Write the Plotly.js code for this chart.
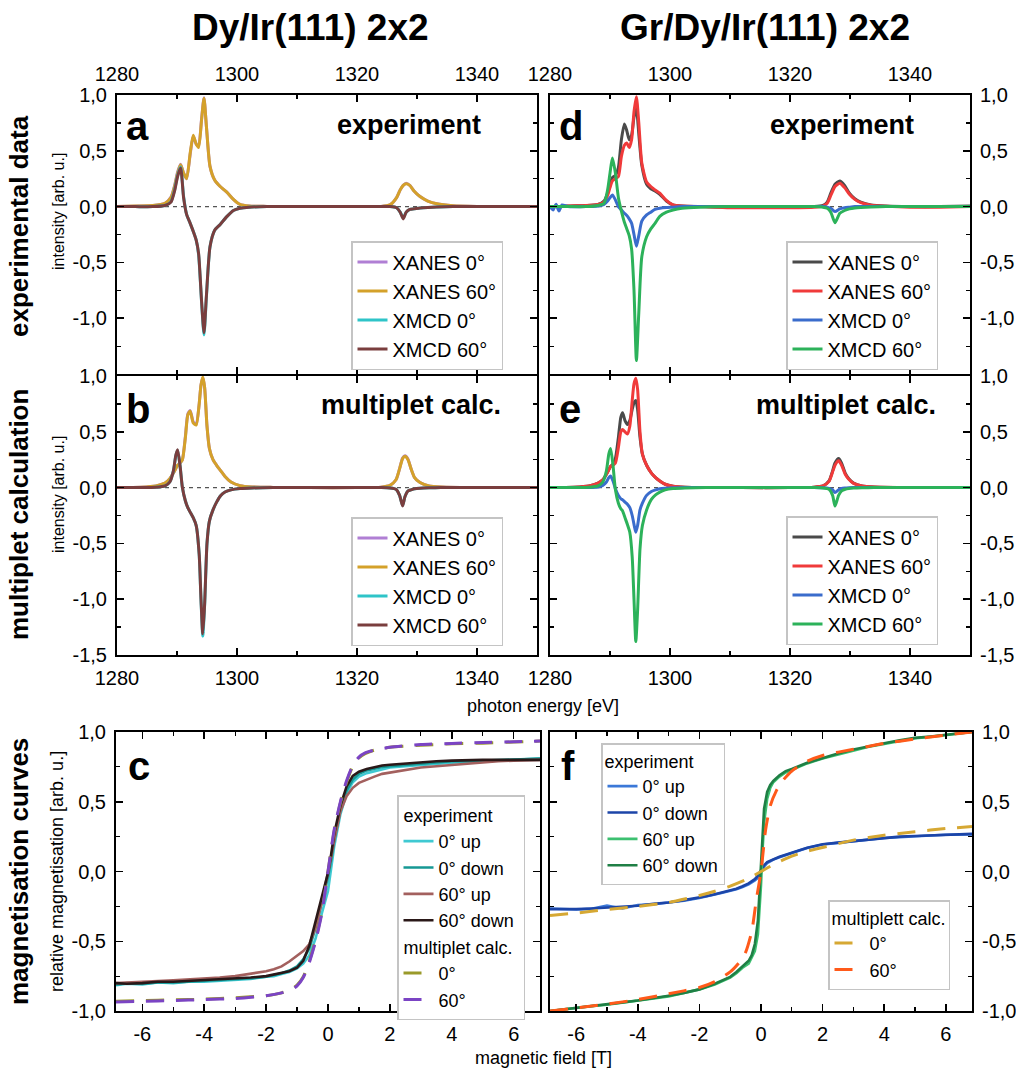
<!DOCTYPE html>
<html><head><meta charset="utf-8">
<script src="https://cdn.plot.ly/plotly-3.0.1.min.js"></script>
<style>html,body{margin:0;padding:0;background:#fff}#chart{width:1016px;height:1074px}</style>
</head><body><div id="chart"></div>
<script>
// ---------------- tick labels ----------------
const energyTicks = [1280, 1300, 1320, 1340];
const energyTickText = ['1280', '1300', '1320', '1340'];
const specTicksA = [1, 0.5, 0, -0.5, -1];
const specTickTextA = ['1,0', '0,5', '0,0', '-0,5', '-1,0'];
const specTicksB = [1, 0.5, 0, -0.5, -1, -1.5];
const specTickTextB = ['1,0', '0,5', '0,0', '-0,5', '-1,0', '-1,5'];
const fieldTicks = [-6, -4, -2, 0, 2, 4, 6];
const fieldTickText = ['-6', '-4', '-2', '0', '2', '4', '6'];
const magTicks = [1, 0.5, 0, -0.5, -1];
const magTickText = ['1,0', '0,5', '0,0', '-0,5', '-1,0'];

// ---------------- panel a: Dy/Ir(111) experiment ----------------
const E_a = [1280, 1283, 1286, 1288, 1289, 1289.6, 1290.1, 1290.6, 1291.1, 1291.6, 1292.2, 1292.7, 1293.2, 1293.6, 1294.1, 1294.5, 1294.9, 1295.5, 1296.3, 1297.2, 1298.3, 1299.4, 1300.5, 1302, 1305, 1310, 1315, 1320, 1324, 1325.5, 1326.6, 1327.2, 1327.7, 1328.2, 1328.8, 1329.5, 1330.5, 1331.8, 1333.3, 1336, 1340, 1345, 1350];
const a_xanes0 = [0, 0.004, 0.01, 0.03, 0.085, 0.19, 0.31, 0.38, 0.3, 0.25, 0.47, 0.63, 0.56, 0.54, 0.79, 0.975, 0.72, 0.36, 0.235, 0.18, 0.13, 0.065, 0.02, 0.005, 0.002, 0, 0, 0, 0.002, 0.015, 0.08, 0.15, 0.19, 0.21, 0.19, 0.14, 0.09, 0.05, 0.025, 0.008, 0.002, 0, 0];
const a_xanes60 = [0, 0.005, 0.01, 0.03, 0.08, 0.18, 0.3, 0.375, 0.3, 0.25, 0.48, 0.64, 0.56, 0.53, 0.78, 0.97, 0.72, 0.36, 0.235, 0.18, 0.13, 0.065, 0.02, 0.005, 0.002, 0, 0, 0, 0.002, 0.015, 0.08, 0.15, 0.19, 0.205, 0.19, 0.14, 0.09, 0.05, 0.025, 0.008, 0.002, 0, 0];
const a_xmcd0 = [0, 0, 0, 0.01, 0.045, 0.15, 0.28, 0.355, 0.09, -0.07, -0.15, -0.22, -0.3, -0.43, -0.86, -1.15, -0.81, -0.36, -0.21, -0.16, -0.09, -0.035, -0.015, -0.005, 0, 0, 0, 0, 0, 0, -0.01, -0.05, -0.1, -0.05, -0.025, -0.02, -0.012, -0.007, -0.004, 0, 0, 0, 0];
const a_xmcd60 = [0, 0, 0, 0.01, 0.04, 0.14, 0.27, 0.345, 0.08, -0.07, -0.15, -0.22, -0.3, -0.42, -0.85, -1.13, -0.8, -0.36, -0.21, -0.16, -0.09, -0.035, -0.015, -0.005, 0, 0, 0, 0, 0, 0, -0.01, -0.05, -0.11, -0.05, -0.025, -0.02, -0.012, -0.007, -0.004, 0, 0, 0, 0];

// ---------------- panel b: Dy/Ir(111) multiplet calc ----------------
const E_b = [1280, 1284, 1286.5, 1288, 1288.8, 1289.4, 1289.8, 1290.1, 1290.5, 1290.9, 1291.4, 1291.8, 1292.2, 1292.7, 1293.2, 1293.7, 1294.0, 1294.3, 1294.6, 1295.0, 1295.4, 1296.0, 1296.6, 1297.3, 1298.0, 1299.0, 1300.5, 1302.5, 1306, 1312, 1320, 1324, 1325.5, 1326.5, 1327.1, 1327.6, 1328.0, 1328.5, 1329.0, 1329.6, 1330.5, 1332, 1334, 1338, 1344, 1350];
const b_xanes0 = [0, 0.004, 0.015, 0.04, 0.08, 0.13, 0.17, 0.2, 0.22, 0.25, 0.46, 0.66, 0.69, 0.59, 0.565, 0.75, 0.92, 0.985, 0.9, 0.55, 0.35, 0.25, 0.2, 0.15, 0.1, 0.05, 0.018, 0.006, 0.002, 0, 0, 0.004, 0.02, 0.07, 0.17, 0.265, 0.285, 0.255, 0.17, 0.09, 0.045, 0.015, 0.005, 0.001, 0, 0];
const b_xanes60 = [0, 0.004, 0.015, 0.04, 0.08, 0.13, 0.17, 0.2, 0.22, 0.25, 0.45, 0.65, 0.685, 0.58, 0.56, 0.75, 0.92, 0.99, 0.9, 0.55, 0.35, 0.25, 0.2, 0.15, 0.1, 0.05, 0.018, 0.006, 0.002, 0, 0, 0.004, 0.02, 0.07, 0.17, 0.26, 0.28, 0.25, 0.17, 0.09, 0.045, 0.015, 0.005, 0.001, 0, 0];
const b_xmcd0 = [0, 0, 0.003, 0.015, 0.05, 0.15, 0.285, 0.335, 0.2, 0.0, -0.12, -0.18, -0.22, -0.27, -0.34, -0.6, -1.01, -1.33, -1.06, -0.5, -0.3, -0.2, -0.13, -0.07, -0.04, -0.02, -0.008, -0.003, 0, 0, 0, 0, -0.003, -0.015, -0.07, -0.16, -0.08, -0.03, -0.02, -0.01, -0.005, -0.002, 0, 0, 0, 0];
const b_xmcd60 = [0, 0, 0.003, 0.015, 0.05, 0.15, 0.29, 0.34, 0.2, 0.0, -0.12, -0.18, -0.22, -0.27, -0.34, -0.6, -1.0, -1.31, -1.05, -0.5, -0.3, -0.2, -0.13, -0.07, -0.04, -0.02, -0.008, -0.003, 0, 0, 0, 0, -0.003, -0.015, -0.07, -0.165, -0.08, -0.03, -0.02, -0.01, -0.005, -0.002, 0, 0, 0, 0];

// ---------------- panel d: Gr/Dy/Ir(111) experiment ----------------
const E_d = [1280, 1280.5, 1281, 1281.5, 1282, 1283, 1286, 1288, 1289, 1289.6, 1290.0, 1290.4, 1290.9, 1291.4, 1291.9, 1292.4, 1292.8, 1293.2, 1293.6, 1294.0, 1294.4, 1294.8, 1295.3, 1296.1, 1296.8, 1297.5, 1298.3, 1299.4, 1300.5, 1302, 1305, 1310, 1315, 1320, 1324, 1325.5, 1326.2, 1326.8, 1327.5, 1328.3, 1329.1, 1329.9, 1330.8, 1331.8, 1333.5, 1336, 1340, 1345, 1350];
const d_xanes0 = [0, 0, 0.005, 0, 0, 0.005, 0.01, 0.02, 0.05, 0.12, 0.2, 0.26, 0.28, 0.35, 0.6, 0.74, 0.68, 0.6, 0.64, 0.8, 0.88, 0.65, 0.37, 0.2, 0.16, 0.14, 0.11, 0.05, 0.015, 0.005, 0, -0.005, -0.005, -0.005, 0, 0.01, 0.04, 0.12, 0.2, 0.23, 0.19, 0.12, 0.07, 0.04, 0.015, 0.005, 0, 0, 0.005];
const d_xanes60 = [0, 0, 0, 0, 0, 0.005, 0.01, 0.02, 0.04, 0.1, 0.17, 0.23, 0.25, 0.27, 0.45, 0.55, 0.57, 0.53, 0.6, 0.85, 0.985, 0.75, 0.39, 0.22, 0.18, 0.15, 0.12, 0.055, 0.015, 0.005, 0, -0.01, -0.01, -0.01, -0.005, 0.005, 0.03, 0.1, 0.18, 0.21, 0.17, 0.11, 0.065, 0.035, 0.012, 0.003, -0.005, -0.005, 0];
const d_xmcd0 = [0, -0.03, 0.02, -0.04, 0.015, 0, 0, 0.005, 0.02, 0.05, 0.08, 0.105, 0.06, 0.0, -0.03, -0.06, -0.08, -0.11, -0.15, -0.25, -0.355, -0.26, -0.13, -0.075, -0.05, -0.025, -0.015, -0.008, -0.005, 0, 0, 0, 0, 0, 0, 0, -0.005, -0.015, -0.045, -0.02, -0.01, -0.005, 0, 0, 0, 0, 0, 0, 0];
const d_xmcd60 = [0, 0, 0, 0, 0, 0, 0, 0.01, 0.03, 0.15, 0.3, 0.435, 0.3, 0.08, -0.04, -0.14, -0.2, -0.26, -0.38, -0.75, -1.38, -0.95, -0.45, -0.27, -0.2, -0.15, -0.087, -0.05, -0.03, -0.015, -0.005, 0, 0, 0, 0, -0.005, -0.015, -0.05, -0.145, -0.06, -0.035, -0.02, -0.012, -0.008, -0.004, 0, 0, 0, 0];

// ---------------- panel e: Gr/Dy/Ir(111) multiplet calc ----------------
const E_e = [1280, 1284, 1286.5, 1288, 1288.8, 1289.4, 1289.8, 1290.1, 1290.5, 1290.9, 1291.4, 1291.8, 1292.1, 1292.5, 1292.9, 1293.3, 1293.7, 1294.0, 1294.3, 1294.6, 1295.0, 1295.4, 1296.1, 1296.9, 1297.6, 1298.3, 1299.2, 1300.5, 1302.5, 1306, 1312, 1320, 1324, 1325.5, 1326.5, 1327.1, 1327.5, 1328.1, 1328.6, 1329.2, 1329.8, 1330.6, 1332, 1334, 1338, 1344, 1350];
const e_xanes0 = [0, 0.004, 0.015, 0.04, 0.07, 0.12, 0.16, 0.19, 0.21, 0.26, 0.45, 0.63, 0.67, 0.6, 0.565, 0.6, 0.7, 0.76, 0.78, 0.7, 0.45, 0.3, 0.2, 0.13, 0.09, 0.06, 0.03, 0.012, 0.004, 0.001, 0, 0, 0.004, 0.015, 0.06, 0.15, 0.22, 0.26, 0.22, 0.13, 0.08, 0.04, 0.015, 0.005, 0.001, 0, 0];
const e_xanes60 = [0, 0.004, 0.015, 0.04, 0.07, 0.12, 0.16, 0.19, 0.2, 0.22, 0.36, 0.5, 0.52, 0.5, 0.48, 0.55, 0.78, 0.93, 0.98, 0.88, 0.5, 0.3, 0.2, 0.13, 0.09, 0.06, 0.03, 0.012, 0.004, 0.001, 0, 0, 0.004, 0.015, 0.055, 0.14, 0.2, 0.24, 0.2, 0.12, 0.075, 0.038, 0.014, 0.005, 0.001, 0, 0];
const e_xmcd0 = [0, 0, 0.001, 0.005, 0.02, 0.05, 0.09, 0.105, 0.06, -0.01, -0.07, -0.1, -0.11, -0.13, -0.15, -0.18, -0.25, -0.33, -0.4, -0.34, -0.2, -0.14, -0.07, -0.035, -0.02, -0.01, -0.005, -0.002, 0, 0, 0, 0, 0, -0.002, -0.008, -0.02, -0.045, -0.02, -0.008, -0.004, -0.002, 0, 0, 0, 0, 0, 0];
const e_xmcd60 = [0, 0, 0.003, 0.015, 0.05, 0.15, 0.3, 0.35, 0.2, -0.02, -0.14, -0.19, -0.21, -0.27, -0.33, -0.4, -0.62, -1.0, -1.38, -1.1, -0.55, -0.34, -0.2, -0.105, -0.065, -0.04, -0.02, -0.008, -0.003, 0, 0, 0, 0, -0.003, -0.015, -0.07, -0.165, -0.07, -0.03, -0.015, -0.008, -0.004, -0.001, 0, 0, 0, 0];

// ---------------- panel c: Dy/Ir(111) magnetisation ----------------
const B_c = [-6.85, -6.5, -6, -5.5, -5, -4.5, -4, -3.5, -3, -2.5, -2, -1.75, -1.5, -1.25, -1, -0.8, -0.6, -0.4, -0.2, -0.1, 0, 0.1, 0.2, 0.4, 0.6, 0.8, 1, 1.25, 1.5, 1.75, 2, 2.5, 3, 3.5, 4, 4.5, 5, 5.5, 6, 6.5, 6.85];
const c_up0 = [-0.815, -0.805, -0.81, -0.795, -0.8, -0.79, -0.79, -0.785, -0.775, -0.77, -0.755, -0.75, -0.735, -0.72, -0.695, -0.66, -0.6, -0.48, -0.3, -0.22, -0.14, 0.02, 0.18, 0.41, 0.56, 0.64, 0.68, 0.705, 0.72, 0.735, 0.745, 0.755, 0.765, 0.775, 0.78, 0.785, 0.79, 0.795, 0.8, 0.805, 0.81];
const c_down0 = [-0.81, -0.8, -0.805, -0.795, -0.795, -0.79, -0.785, -0.78, -0.775, -0.765, -0.755, -0.745, -0.73, -0.71, -0.68, -0.63, -0.55, -0.4, -0.22, -0.13, -0.04, 0.08, 0.22, 0.44, 0.58, 0.66, 0.7, 0.725, 0.74, 0.75, 0.755, 0.765, 0.775, 0.78, 0.79, 0.79, 0.795, 0.8, 0.805, 0.805, 0.81];
const c_up60 = [-0.8, -0.795, -0.79, -0.785, -0.78, -0.775, -0.77, -0.76, -0.75, -0.735, -0.715, -0.7, -0.68, -0.645, -0.6, -0.57, -0.52, -0.4, -0.22, -0.12, -0.02, 0.1, 0.22, 0.43, 0.54, 0.6, 0.635, 0.66, 0.68, 0.7, 0.71, 0.73, 0.745, 0.755, 0.765, 0.775, 0.785, 0.79, 0.795, 0.8, 0.8];
const c_down60 = [-0.8, -0.805, -0.8, -0.79, -0.79, -0.785, -0.78, -0.77, -0.77, -0.76, -0.75, -0.74, -0.73, -0.715, -0.69, -0.64, -0.53, -0.36, -0.19, -0.1, -0.01, 0.12, 0.27, 0.47, 0.61, 0.685, 0.715, 0.735, 0.75, 0.76, 0.765, 0.775, 0.785, 0.79, 0.795, 0.8, 0.8, 0.8, 0.8, 0.8, 0.8];
const B_cc = [-6.85, -6, -5, -4, -3, -2, -1.5, -1.2, -1, -0.8, -0.6, -0.4, -0.2, 0, 0.2, 0.4, 0.6, 0.8, 1, 1.2, 1.5, 2, 3, 4, 5, 6, 6.85];
const cc_0 = [-0.93, -0.925, -0.92, -0.915, -0.905, -0.89, -0.87, -0.845, -0.815, -0.755, -0.64, -0.49, -0.29, 0, 0.29, 0.49, 0.64, 0.755, 0.815, 0.845, 0.87, 0.89, 0.905, 0.915, 0.92, 0.928, 0.935];
const cc_60 = [-0.935, -0.93, -0.925, -0.918, -0.91, -0.89, -0.87, -0.85, -0.82, -0.76, -0.65, -0.5, -0.3, 0, 0.3, 0.5, 0.65, 0.76, 0.82, 0.85, 0.87, 0.89, 0.91, 0.918, 0.925, 0.93, 0.935];

// ---------------- panel f: Gr/Dy/Ir(111) magnetisation ----------------
const B_f = [-6.85, -6.5, -6, -5.5, -5, -4.5, -4, -3.5, -3, -2.5, -2, -1.75, -1.5, -1.25, -1, -0.8, -0.6, -0.4, -0.2, -0.1, 0, 0.1, 0.2, 0.4, 0.6, 0.8, 1, 1.25, 1.5, 1.75, 2, 2.5, 3, 3.5, 4, 4.5, 5, 5.5, 6, 6.5, 6.85];
const f_up0 = [-0.265, -0.27, -0.272, -0.268, -0.245, -0.265, -0.24, -0.235, -0.225, -0.21, -0.19, -0.18, -0.165, -0.152, -0.14, -0.128, -0.112, -0.092, -0.065, -0.045, -0.012, 0.035, 0.06, 0.085, 0.102, 0.118, 0.134, 0.15, 0.168, 0.182, 0.193, 0.205, 0.217, 0.228, 0.24, 0.245, 0.253, 0.258, 0.263, 0.265, 0.265];
const f_down0 = [-0.27, -0.272, -0.27, -0.265, -0.26, -0.255, -0.245, -0.232, -0.222, -0.205, -0.188, -0.176, -0.163, -0.15, -0.137, -0.124, -0.106, -0.085, -0.055, -0.03, 0.01, 0.045, 0.068, 0.09, 0.106, 0.12, 0.136, 0.152, 0.17, 0.184, 0.195, 0.207, 0.218, 0.23, 0.238, 0.25, 0.255, 0.26, 0.265, 0.268, 0.27];
const B_f60 = [-6.85, -6.5, -6, -5.5, -5, -4.5, -4, -3.5, -3, -2.5, -2, -1.5, -1, -0.8, -0.6, -0.4, -0.3, -0.2, -0.1, -0.05, 0, 0.05, 0.1, 0.2, 0.3, 0.4, 0.6, 0.8, 1, 1.5, 2, 2.5, 3, 3.5, 4, 4.5, 5, 5.5, 6, 6.5, 6.85];
const f_up60 = [-1.0, -0.99, -0.98, -0.965, -0.955, -0.94, -0.93, -0.91, -0.895, -0.87, -0.845, -0.81, -0.76, -0.73, -0.69, -0.66, -0.62, -0.57, -0.45, -0.3, -0.1, 0.15, 0.35, 0.52, 0.6, 0.64, 0.68, 0.71, 0.73, 0.775, 0.81, 0.84, 0.87, 0.895, 0.915, 0.935, 0.955, 0.965, 0.978, 0.99, 1.0];
const f_down60 = [-1.0, -0.99, -0.978, -0.965, -0.95, -0.938, -0.925, -0.91, -0.89, -0.87, -0.845, -0.805, -0.755, -0.72, -0.68, -0.64, -0.6, -0.52, -0.35, -0.15, 0.1, 0.3, 0.45, 0.57, 0.62, 0.65, 0.69, 0.72, 0.735, 0.78, 0.815, 0.845, 0.875, 0.9, 0.92, 0.94, 0.958, 0.968, 0.98, 0.99, 1.0];
const B_fc0 = [-6.85, -6, -5, -4, -3, -2, -1.5, -1, -0.5, -0.2, 0, 0.2, 0.5, 1, 1.5, 2, 3, 4, 5, 6, 6.85];
const fc_0 = [-0.315, -0.298, -0.273, -0.25, -0.222, -0.172, -0.142, -0.105, -0.06, -0.025, 0, 0.025, 0.06, 0.11, 0.145, 0.172, 0.225, 0.26, 0.285, 0.308, 0.322];
const B_fc60 = [-6.85, -6, -5, -4, -3, -2, -1.5, -1, -0.7, -0.5, -0.3, -0.15, 0, 0.15, 0.3, 0.5, 0.7, 1, 1.5, 2, 3, 4, 5, 6, 6.85];
const fc_60 = [-1.0, -0.978, -0.95, -0.918, -0.876, -0.832, -0.79, -0.72, -0.65, -0.58, -0.43, -0.2, 0, 0.3, 0.47, 0.58, 0.65, 0.72, 0.79, 0.832, 0.876, 0.918, 0.95, 0.978, 1.0];

// ---------------- styling / layout ----------------
const FONT = 'Arial, "Liberation Sans", Helvetica, sans-serif';
const W = 1016, H = 1074;
const PX = v => v / W;
const PY = v => 1 - v / H;

function axisBase() {
  return {showline: true, linecolor: '#000', linewidth: 2, mirror: 'ticks', ticks: 'inside',
    ticklen: 7, tickwidth: 1.5, tickcolor: '#000', showgrid: false, zeroline: false,
    tickfont: {family: FONT, size: 20, color: '#000'}, fixedrange: true};
}
function xAxis(x0, x1, anchor, side, range, vals, text, minorStep, minor0) {
  return Object.assign(axisBase(), {domain: [PX(x0), PX(x1)], anchor: anchor, side: side, range: range,
    tickmode: 'array', tickvals: vals, ticktext: text, ticklabelstandoff: 4,
    minor: {tickmode: 'linear', tick0: minor0, dtick: minorStep, ticks: 'inside', ticklen: 4, tickwidth: 1.2, tickcolor: '#000'}});
}
function yAxis(y0, y1, anchor, side, range, vals, text) {
  return Object.assign(axisBase(), {domain: [PY(y1), PY(y0)], anchor: anchor, side: side, range: range,
    tickmode: 'array', tickvals: vals, ticktext: text, ticklabelstandoff: 4,
    minor: {tickmode: 'linear', tick0: 0, dtick: 0.25, ticks: 'inside', ticklen: 4, tickwidth: 1.2, tickcolor: '#000'}});
}
function tr(x, y, name, color, xa, ya, legend, extra) {
  return Object.assign({type: 'scatter', mode: 'lines', x: x, y: y, name: name, xaxis: xa, yaxis: ya, legend: legend,
    line: {color: color, width: 3, shape: 'spline', smoothing: 0.6}}, extra || {});
}

const colA = {x0: '#b07fd4', x60: '#d4a12a', m0: '#2ec4c8', m60: '#7a3e3e'};
const colD = {x0: '#4a4a4a', x60: '#f03a3a', m0: '#3a6ccc', m60: '#2cb25a'};
const LG = {family: FONT, size: 18, color: '#000'};

const traces = [
  tr(E_a, a_xanes0, 'XANES 0°', colA.x0, 'x', 'y', 'legend'),
  tr(E_a, a_xanes60, 'XANES 60°', colA.x60, 'x', 'y', 'legend'),
  tr(E_a, a_xmcd0, 'XMCD 0°', colA.m0, 'x', 'y', 'legend'),
  tr(E_a, a_xmcd60, 'XMCD 60°', colA.m60, 'x', 'y', 'legend'),

  tr(E_b, b_xanes0, 'XANES 0°', colA.x0, 'x2', 'y2', 'legend2'),
  tr(E_b, b_xanes60, 'XANES 60°', colA.x60, 'x2', 'y2', 'legend2'),
  tr(E_b, b_xmcd0, 'XMCD 0°', colA.m0, 'x2', 'y2', 'legend2'),
  tr(E_b, b_xmcd60, 'XMCD 60°', colA.m60, 'x2', 'y2', 'legend2'),

  tr(E_d, d_xanes0, 'XANES 0°', colD.x0, 'x3', 'y3', 'legend3'),
  tr(E_d, d_xanes60, 'XANES 60°', colD.x60, 'x3', 'y3', 'legend3'),
  tr(E_d, d_xmcd0, 'XMCD 0°', colD.m0, 'x3', 'y3', 'legend3'),
  tr(E_d, d_xmcd60, 'XMCD 60°', colD.m60, 'x3', 'y3', 'legend3'),

  tr(E_e, e_xanes0, 'XANES 0°', colD.x0, 'x4', 'y4', 'legend4'),
  tr(E_e, e_xanes60, 'XANES 60°', colD.x60, 'x4', 'y4', 'legend4'),
  tr(E_e, e_xmcd0, 'XMCD 0°', colD.m0, 'x4', 'y4', 'legend4'),
  tr(E_e, e_xmcd60, 'XMCD 60°', colD.m60, 'x4', 'y4', 'legend4'),

  tr(B_c, c_up0, '0° up', '#3fc9d2', 'x5', 'y5', 'legend5', {legendgroup: 'exp', legendgrouptitle: {text: 'experiment', font: LG}, line: {color: '#3fc9d2', width: 2.6}}),
  tr(B_c, c_down0, '0° down', '#169894', 'x5', 'y5', 'legend5', {legendgroup: 'exp', line: {color: '#169894', width: 2.6}}),
  tr(B_c, c_up60, '60° up', '#a3605e', 'x5', 'y5', 'legend5', {legendgroup: 'exp', line: {color: '#a3605e', width: 2.6}}),
  tr(B_c, c_down60, '60° down', '#2a1818', 'x5', 'y5', 'legend5', {legendgroup: 'exp', line: {color: '#2a1818', width: 2.6}}),
  tr(B_cc, cc_0, '0°', '#9a9a2a', 'x5', 'y5', 'legend5', {legendgroup: 'calc', legendgrouptitle: {text: 'multiplet calc.', font: LG}, line: {color: '#9a9a2a', width: 3, dash: '18px,12px', shape: 'spline', smoothing: 0.6}}),
  tr(B_cc, cc_60, '60°', '#7b44c4', 'x5', 'y5', 'legend5', {legendgroup: 'calc', line: {color: '#7b44c4', width: 3, dash: '18px,12px', shape: 'spline', smoothing: 0.6}}),

  tr(B_f, f_up0, '0° up', '#3b78d8', 'x6', 'y6', 'legend6', {line: {color: '#3b78d8', width: 2.6}}),
  tr(B_f, f_down0, '0° down', '#1c45a8', 'x6', 'y6', 'legend6', {line: {color: '#1c45a8', width: 2.6}}),
  tr(B_f60, f_up60, '60° up', '#3cc070', 'x6', 'y6', 'legend6', {line: {color: '#3cc070', width: 2.6}}),
  tr(B_f60, f_down60, '60° down', '#1f7f45', 'x6', 'y6', 'legend6', {line: {color: '#1f7f45', width: 2.6}}),
  tr(B_fc0, fc_0, '0°', '#d6a833', 'x6', 'y6', 'legend7', {line: {color: '#d6a833', width: 3, dash: '18px,12px', shape: 'spline', smoothing: 0.6}}),
  tr(B_fc60, fc_60, '60°', '#ff5a1a', 'x6', 'y6', 'legend7', {line: {color: '#ff5a1a', width: 3, dash: '18px,12px', shape: 'spline', smoothing: 0.6}})
];

function legendBox(x, y, xanchor, size, title) {
  const l = {x: PX(x), y: PY(y), xanchor: xanchor, yanchor: 'top', bgcolor: '#ffffff', bordercolor: '#c4c4c4',
    borderwidth: 1.5, font: {family: FONT, size: size, color: '#000'}, tracegroupgap: 0, itemwidth: 30};
  if (title) l.title = {text: title, font: {family: FONT, size: size, color: '#000'}};
  return l;
}

function ann(text, x, y, size, opts) {
  return Object.assign({text: text, x: PX(x), y: PY(y), xref: 'paper', yref: 'paper', showarrow: false,
    xanchor: 'center', yanchor: 'middle', font: {family: FONT, size: size, color: '#000'}}, opts || {});
}
function zeroLine(xa, ya) {
  return {type: 'line', xref: xa, yref: ya, x0: 1280, x1: 1350, y0: 0, y1: 0, layer: 'below',
    line: {color: '#555', width: 1.2, dash: '4px,4px'}};
}

const layout = {
  width: W, height: H, margin: {l: 0, r: 0, t: 0, b: 0}, paper_bgcolor: '#fff', plot_bgcolor: '#fff',
  font: {family: FONT, color: '#000'}, showlegend: true,
  xaxis: xAxis(117, 537, 'y', 'top', [1280, 1350], energyTicks, energyTickText, 10, 1280),
  yaxis: yAxis(95, 374, 'x', 'left', [-1.5, 1.0], specTicksA, specTickTextA),
  xaxis2: xAxis(117, 537, 'y2', 'bottom', [1280, 1350], energyTicks, energyTickText, 10, 1280),
  yaxis2: yAxis(376, 655, 'x2', 'left', [-1.5, 1.0], specTicksB, specTickTextB),
  xaxis3: xAxis(550, 970, 'y3', 'top', [1280, 1350], energyTicks, energyTickText, 10, 1280),
  yaxis3: yAxis(95, 374, 'x3', 'right', [-1.5, 1.0], specTicksA, specTickTextA),
  xaxis4: xAxis(550, 970, 'y4', 'bottom', [1280, 1350], energyTicks, energyTickText, 10, 1280),
  yaxis4: yAxis(376, 655, 'x4', 'right', [-1.5, 1.0], specTicksB, specTickTextB),
  xaxis5: xAxis(116, 540, 'y5', 'bottom', [-6.85, 6.85], fieldTicks, fieldTickText, 1, 0),
  yaxis5: yAxis(732, 1011, 'x5', 'left', [-1, 1], magTicks, magTickText),
  xaxis6: xAxis(550, 972, 'y6', 'bottom', [-6.85, 6.85], fieldTicks, fieldTickText, 1, 0),
  yaxis6: yAxis(732, 1011, 'x6', 'right', [-1, 1], magTicks, magTickText),
  legend: legendBox(503, 241, 'right', 20),
  legend2: legendBox(503, 517, 'right', 20),
  legend3: legendBox(938, 241, 'right', 20),
  legend4: legendBox(938, 516, 'right', 20),
  legend5: Object.assign(legendBox(525, 795, 'right', 18), {traceorder: 'grouped'}),
  legend6: legendBox(601, 743, 'left', 18, 'experiment'),
  legend7: legendBox(950, 900, 'right', 18, 'multiplett calc.'),
  shapes: [zeroLine('x', 'y'), zeroLine('x2', 'y2'), zeroLine('x3', 'y3'), zeroLine('x4', 'y4')],
  annotations: [
    ann('<b>Dy/Ir(111) 2x2</b>', 310, 28, 37),
    ann('<b>Gr/Dy/Ir(111) 2x2</b>', 765, 28, 37),
    ann('<b>a</b>', 124, 126, 40, {xanchor: 'left'}),
    ann('<b>experiment</b>', 409, 125, 27),
    ann('<b>d</b>', 557, 126, 40, {xanchor: 'left'}),
    ann('<b>experiment</b>', 842, 125, 27),
    ann('<b>b</b>', 124, 409, 40, {xanchor: 'left'}),
    ann('<b>multiplet calc.</b>', 411, 405, 27),
    ann('<b>e</b>', 557, 409, 40, {xanchor: 'left'}),
    ann('<b>multiplet calc.</b>', 846, 405, 27),
    ann('<b>c</b>', 126, 766, 40, {xanchor: 'left'}),
    ann('<b>f</b>', 559, 766, 40, {xanchor: 'left'}),
    ann('<b>experimental data</b>', 19, 226, 26, {textangle: -90}),
    ann('intensity [arb. u.]', 58, 212, 16, {textangle: -90}),
    ann('<b>multiplet calculation</b>', 19, 515, 26, {textangle: -90}),
    ann('intensity [arb. u.]', 58, 495, 16, {textangle: -90}),
    ann('<b>magnetisation curves</b>', 19, 872, 26, {textangle: -90}),
    ann('relative magnetisation [arb. u.]', 57, 872, 18, {textangle: -90}),
    ann('photon energy [eV]', 543, 706, 18),
    ann('magnetic field [T]', 543, 1058, 18)
  ]
};

Plotly.newPlot('chart', traces, layout, {displayModeBar: false, staticPlot: true});
</script></body></html>
